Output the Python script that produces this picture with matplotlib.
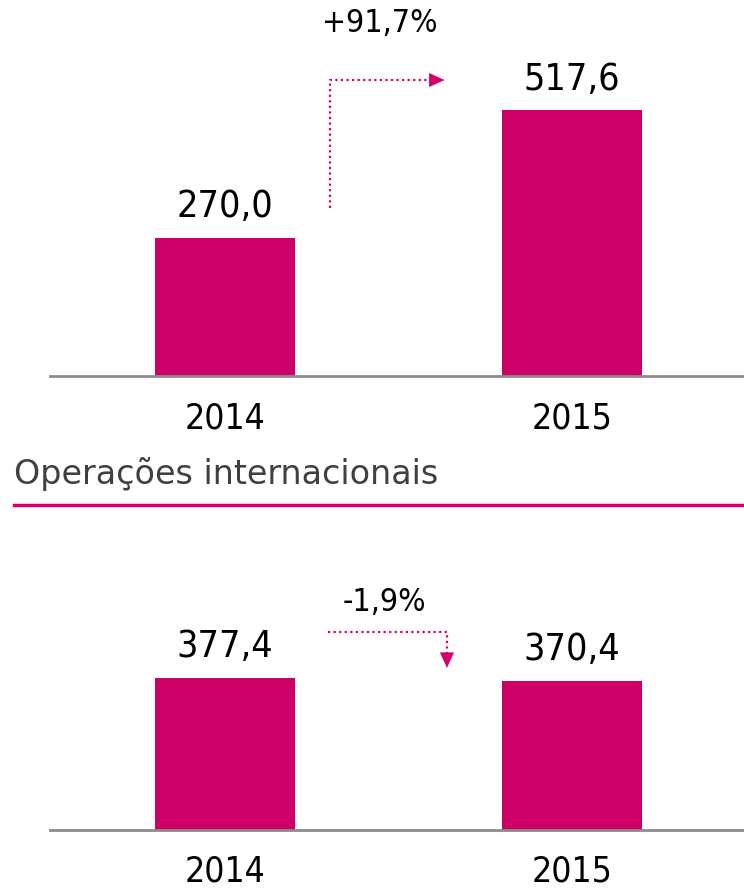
import matplotlib
matplotlib.use("Agg")
import matplotlib.pyplot as plt
from matplotlib.lines import Line2D

years = ["2014", "2015"]
top_values = [270.0, 517.6]
top_labels = ["270,0", "517,6"]
top_change = "+91,7%"
bottom_values = [377.4, 370.4]
bottom_labels = ["377,4", "370,4"]
bottom_change = "-1,9%"
section_title = "Operações internacionais"

BAR = "#CC0066"
ARROW = "#D6006A"
AXIS = "#8C8C8C"

FONT = ["DejaVu Sans", "Liberation Sans"]
STRETCH = "condensed"
plt.rcParams['font.family'] = FONT

W, H = 744, 891
fig = plt.figure(figsize=(W / 100, H / 100), dpi=100)

def px_axes(x0, y0_top, x1, y1_bottom):
    return fig.add_axes([x0 / W, 1 - y1_bottom / H, (x1 - x0) / W, (y1_bottom - y0_top) / H])

def style(ax, ylim):
    ax.set_xlim(-0.504, 1.496)
    ax.set_ylim(0, ylim)
    for s in ["top", "right", "left"]:
        ax.spines[s].set_visible(False)
    ax.spines["bottom"].set_color(AXIS)
    ax.spines["bottom"].set_linewidth(2)
    ax.set_yticks([])
    ax.set_xticks(range(len(years)))
    ax.set_xticklabels(years, fontsize=25.5, color="black", fontstretch=STRETCH)
    ax.tick_params(axis="x", length=0, pad=18)
    ax.patch.set_alpha(0)

def bars(ax, vals, labels):
    x = range(len(vals))
    ax.bar(x, vals, width=0.403, color=BAR, zorder=2)
    for xi, v, lab in zip(x, vals, labels):
        ax.annotate(lab, (xi, v), xytext=(0, 22), textcoords="offset points",
                    ha="center", va="center", fontsize=27, color="black",
                    fontstretch=STRETCH)

DOTS = dict(color=ARROW, lw=1.6, linestyle=(0, (1.0, 1.5)), dash_capstyle="butt", zorder=3)
HEAD = dict(arrowstyle="-|>,head_length=1.1,head_width=0.5",
            color=ARROW, lw=0.1, shrinkA=0, shrinkB=0)

# top chart
ax1 = px_axes(50, 0, 744, 376)
style(ax1, 733)
bars(ax1, top_values, top_labels)
ax1.plot([0.303, 0.303, 0.59], [327, 577, 577], **DOTS)
ax1.annotate("", xy=(0.633, 577), xytext=(0.59, 577), arrowprops=HEAD)
ax1.text(0.447, 688, top_change, ha="center", va="center", fontsize=23,
         color="black", fontstretch=STRETCH)

# section title
fig.text(14 / W, 1 - 474 / H, section_title, ha="left", va="center",
         fontsize=24, color="#404040", fontstretch="normal")
fig.add_artist(Line2D([14 / W, 1], [1 - 505 / H, 1 - 505 / H], color=ARROW, lw=2.5,
                      transform=fig.transFigure))

# bottom chart
ax2 = px_axes(50, 520, 744, 830)
style(ax2, 769)
bars(ax2, bottom_values, bottom_labels)
ax2.plot([0.297, 0.64, 0.64], [491, 491, 440], **DOTS)
ax2.annotate("", xy=(0.64, 402), xytext=(0.64, 440), arrowprops=HEAD)
ax2.text(0.461, 565, bottom_change, ha="center", va="center", fontsize=23,
         color="black", fontstretch=STRETCH)

fig.savefig("out.png", dpi=100)
